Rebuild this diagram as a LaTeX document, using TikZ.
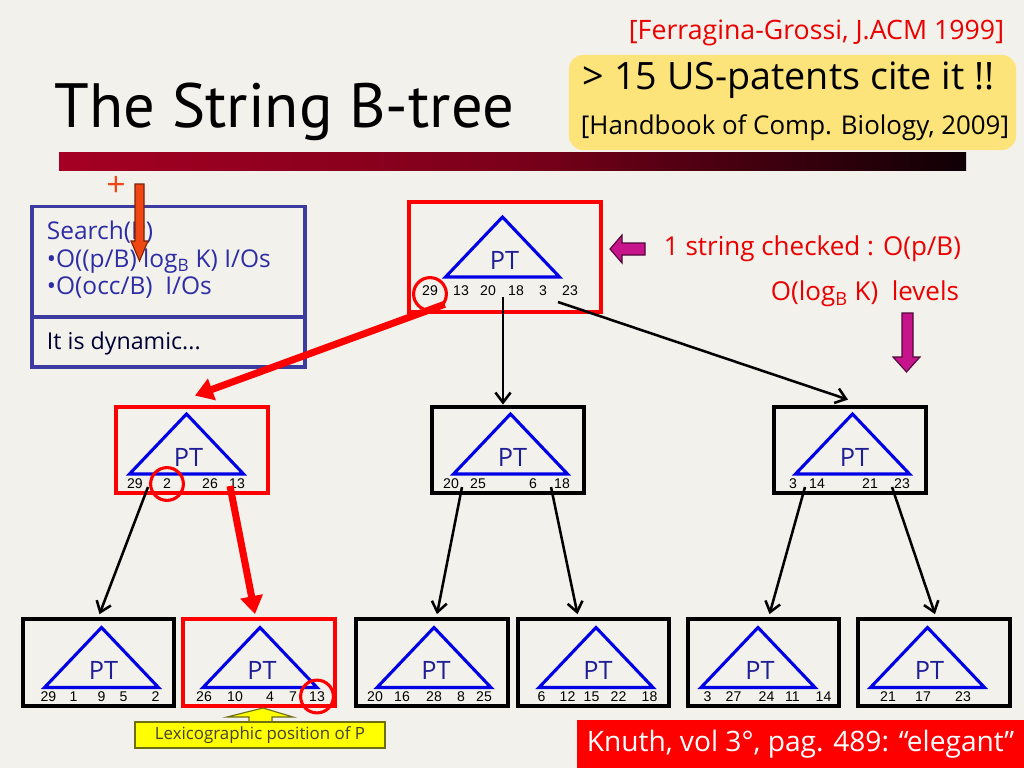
\documentclass[tikz,border=0pt]{standalone}
\usepackage{fontspec}
\setmainfont{Open Sans}
\newfontfamily\keyfont{Liberation Sans}
\newfontfamily\titlefont{PT Sans}
\usetikzlibrary{arrows.meta,calc}

\definecolor{slidebg}{RGB}{243,241,236}
\definecolor{boxblue}{RGB}{60,60,160}
\definecolor{txtblue}{RGB}{45,45,165}
\definecolor{ptblue}{RGB}{30,30,150}
\definecolor{triblue}{RGB}{0,0,230}
\definecolor{hlred}{RGB}{255,0,0}
\definecolor{txtred}{RGB}{235,0,0}
\definecolor{magarrow}{RGB}{200,20,140}
\definecolor{noteyellow}{RGB}{252,228,122}
\definecolor{lexyellow}{RGB}{255,255,0}
\definecolor{lexedge}{RGB}{110,110,20}
\definecolor{orangearrow}{RGB}{240,70,20}
\definecolor{barred}{RGB}{165,0,35}
\definecolor{bardark}{RGB}{15,0,5}

% one B-tree page: box, Patricia trie triangle, PT label and its keys
\newcommand{\ptnode}[5]{%
  \node[#2] (#1) at (#3) {};
  \draw[tri] ($(#1)+(#4)+(0,-37)$) -- ($(#1)+(#4)+(-57,23)$) -- ($(#1)+(#4)+(57,23)$) -- cycle;
  \node[ptlabel] (#1-pt) at ($(#1)+(#4)+(2,6)$) {PT};
  \foreach \k/\dx [count=\i] in {#5}
    \node[key] (#1-k\i) at ($(#1)+(\dx,34)$) {\k};
}

\begin{document}
\begin{tikzpicture}[x=0.025cm, y=-0.025cm]
    \tikzset{
        treebox/.style={draw=black, line width=2.8pt, minimum width=3.78cm, minimum height=2.17cm, inner sep=0pt},
        hlbox/.style={treebox, draw=hlred},
        rootbox/.style={hlbox, minimum width=4.8cm, minimum height=2.75cm},
        tri/.style={draw=triblue, line width=2.2pt, line join=miter},
        ptlabel/.style={text=ptblue, inner sep=0pt, font=\fontsize{18}{20}\selectfont},
        key/.style={inner sep=0pt, font=\keyfont\fontsize{10}{12}\selectfont},
        markcirc/.style={circle, draw=hlred, line width=2.2pt, minimum size=0.82cm, inner sep=0pt},
        link/.style={-{Straight Barb[length=2.5mm,width=3.8mm]}, line width=1.8pt},
        hllink/.style={-{Triangle[length=4.5mm,width=5.5mm]}, line width=5pt, draw=hlred},
        panel/.style={draw=boxblue, line width=2.8pt, minimum width=6.8cm, inner sep=0pt},
        blockarrow/.style={line width=0.8pt, line join=miter}
    }
    \useasboundingbox (0,0) rectangle (1024,768);
    \fill[slidebg] (0,0) rectangle (1024,768);

    % header
    \node[anchor=east, text=txtred, font=\fontsize{19}{21}\selectfont] (cite) at (1009,33) {[Ferragina-Grossi, J.ACM 1999]};
    \node[fill=noteyellow, rounded corners=10pt, minimum width=11.175cm, minimum height=2.375cm] (note) at (792.5,102.5) {};
    \node[anchor=west, font=\fontsize{26.8}{29}\selectfont] (note-a) at (578,80) {> 15 US-patents cite it !!};
    \node[anchor=west, font=\fontsize{18.4}{20}\selectfont] (note-b) at (576,128) {[Handbook of Comp. Biology, 2009]};
    \node[anchor=west, font=\titlefont\fontsize{44.5}{48}\selectfont] (title) at (50,112) {The String B-tree};
    \shade[left color=barred, right color=bardark, middle color=barred!75!black] (59,153) rectangle (966,171);

    % search panel
    \node[panel, minimum height=2.775cm] (search) at (168.5,262) {};
    \node[panel, minimum height=1.25cm] (dynamic) at (168.5,342) {};
    \node[anchor=west, align=left, text=txtblue, font=\fontsize{17.4}{19.6}\selectfont] (search-txt) at (42,260)
        {Search(P)\\•O((p/B) log\textsubscript{B} K) I/Os\\•O(occ/B)\ \ I/Os};
    \node[anchor=west, text=black!80!blue, font=\fontsize{16.5}{19}\selectfont] (dynamic-txt) at (42,343) {It is dynamic...};
    \node[text=orangearrow, font=\fontsize{24}{26}\selectfont] (plus) at (116,186) {+};
    \filldraw[blockarrow, fill=orangearrow, draw=orangearrow!50!black]
        (135,184) -- (144,184) -- (144,241) -- (148,241) -- (139.5,261) -- (131,241) -- (135,241) -- cycle;

    % notes on the right
    \filldraw[blockarrow, fill=magarrow, draw=magarrow!40!black]
        (610,249) -- (622,235) -- (622,243) -- (645,243) -- (645,255) -- (622,255) -- (622,263) -- cycle;
    \node[anchor=east, text=txtred, font=\fontsize{18.5}{20}\selectfont] (checked) at (966,249) {1 string checked : O(p/B)};
    \node[anchor=east, text=txtred, font=\fontsize{18.5}{20}\selectfont] (levels) at (964,294) {O(log\textsubscript{B} K)\ \ levels};
    \filldraw[blockarrow, fill=magarrow, draw=magarrow!40!black]
        (902,313) -- (913,313) -- (913,357) -- (920,357) -- (906.5,372) -- (893,357) -- (902,357) -- cycle;

    % the tree
    \ptnode{root}{rootbox}{505,257}{-2.5,-3}{29/-75,13/-44,20/-17,18/11,3/38,23/65}
    \ptnode{ml}{hlbox}{192,450}{-5.5,1}{29/-57,2/-25,26/18,13/45}
    \ptnode{mm}{treebox}{508,450}{2.5,1}{20/-57,25/-30,6/25,18/54}
    \ptnode{mr}{treebox}{850,450}{2.5,1}{3/-57,14/-33,21/20,23/52}
    \ptnode{b1}{treebox}{98.5,662.5}{3,2}{29/-50,1/-25,9/3,5/25,2/57}
    \ptnode{b2}{hlbox}{259,662.5}{1,2}{26/-55,10/-24,4/11,7/34,13/58}
    \ptnode{b3}{treebox}{432,662.5}{2,2}{20/-57,16/-30,28/2,8/29,25/52}
    \ptnode{b4}{treebox}{593.5,662.5}{2.5,2}{6/-52,12/-26,15/-2,22/25,18/56}
    \ptnode{b5}{treebox}{763.5,662.5}{-5.5,2}{3/-56,27/-30,24/3,11/29,14/60}
    \ptnode{b6}{treebox}{934,662.5}{-6.5,2}{21/-46,17/-11,23/29}

    \node[markcirc] (hit-root) at ($(root-k1)+(0,3)$) {};
    \node[markcirc] (hit-ml) at (ml-k2) {};
    \node[markcirc] (hit-b2) at (b2-k5) {};

    \coordinate (root-s2) at (503,297);
    \coordinate (root-s3) at (558,302);
    \coordinate (ml-s1) at (148,487);
    \coordinate (ml-s2) at (230,486);
    \coordinate (mm-s1) at (462,487);
    \coordinate (mm-s2) at (551,487);
    \coordinate (mr-s1) at (805,487);
    \coordinate (mr-s2) at (892,487);

    \draw[link] (root-s2) -- (root-s2 |- mm.north);
    \draw[link] (root-s3) -- ($(mr.north)+(-2,-5)$);
    \draw[link] (ml-s1) -- ($(b1.north)+(1,-3)$);
    \draw[link] (mm-s1) -- ($(b3.north)+(5,-3)$);
    \draw[link] (mm-s2) -- ($(b4.north)+(-16,-3)$);
    \draw[link] (mr-s1) -- ($(b5.north)+(6,-3)$);
    \draw[link] (mr-s2) -- ($(b6.north)+(1,-3)$);
    \draw[hllink] (hit-root.-35) -- ($(ml.north)+(3,-9)$);
    \draw[hllink] (ml-s2) -- ($(b2.north)+(-4,-3)$);

    % bottom labels
    \filldraw[blockarrow, fill=lexyellow, draw=lexedge]
        (249,722) -- (249,717) -- (227,717) -- (263,708) -- (293,717) -- (272,717) -- (272,722);
    \node[fill=lexyellow, draw=lexedge, line width=0.8pt, minimum width=6.25cm, minimum height=0.65cm, inner sep=0pt,
        text=black!85!yellow, font=\fontsize{12}{14}\selectfont] (lexpos) at (260,735) {Lexicographic position of P};
    \node[fill=hlred, text=white, minimum width=11.175cm, minimum height=1.2cm, inner sep=0pt,
        font=\fontsize{20}{22}\selectfont] (knuth) at (800.5,744) {Knuth, vol 3°, pag. 489: “elegant”};
\end{tikzpicture}
\end{document}
